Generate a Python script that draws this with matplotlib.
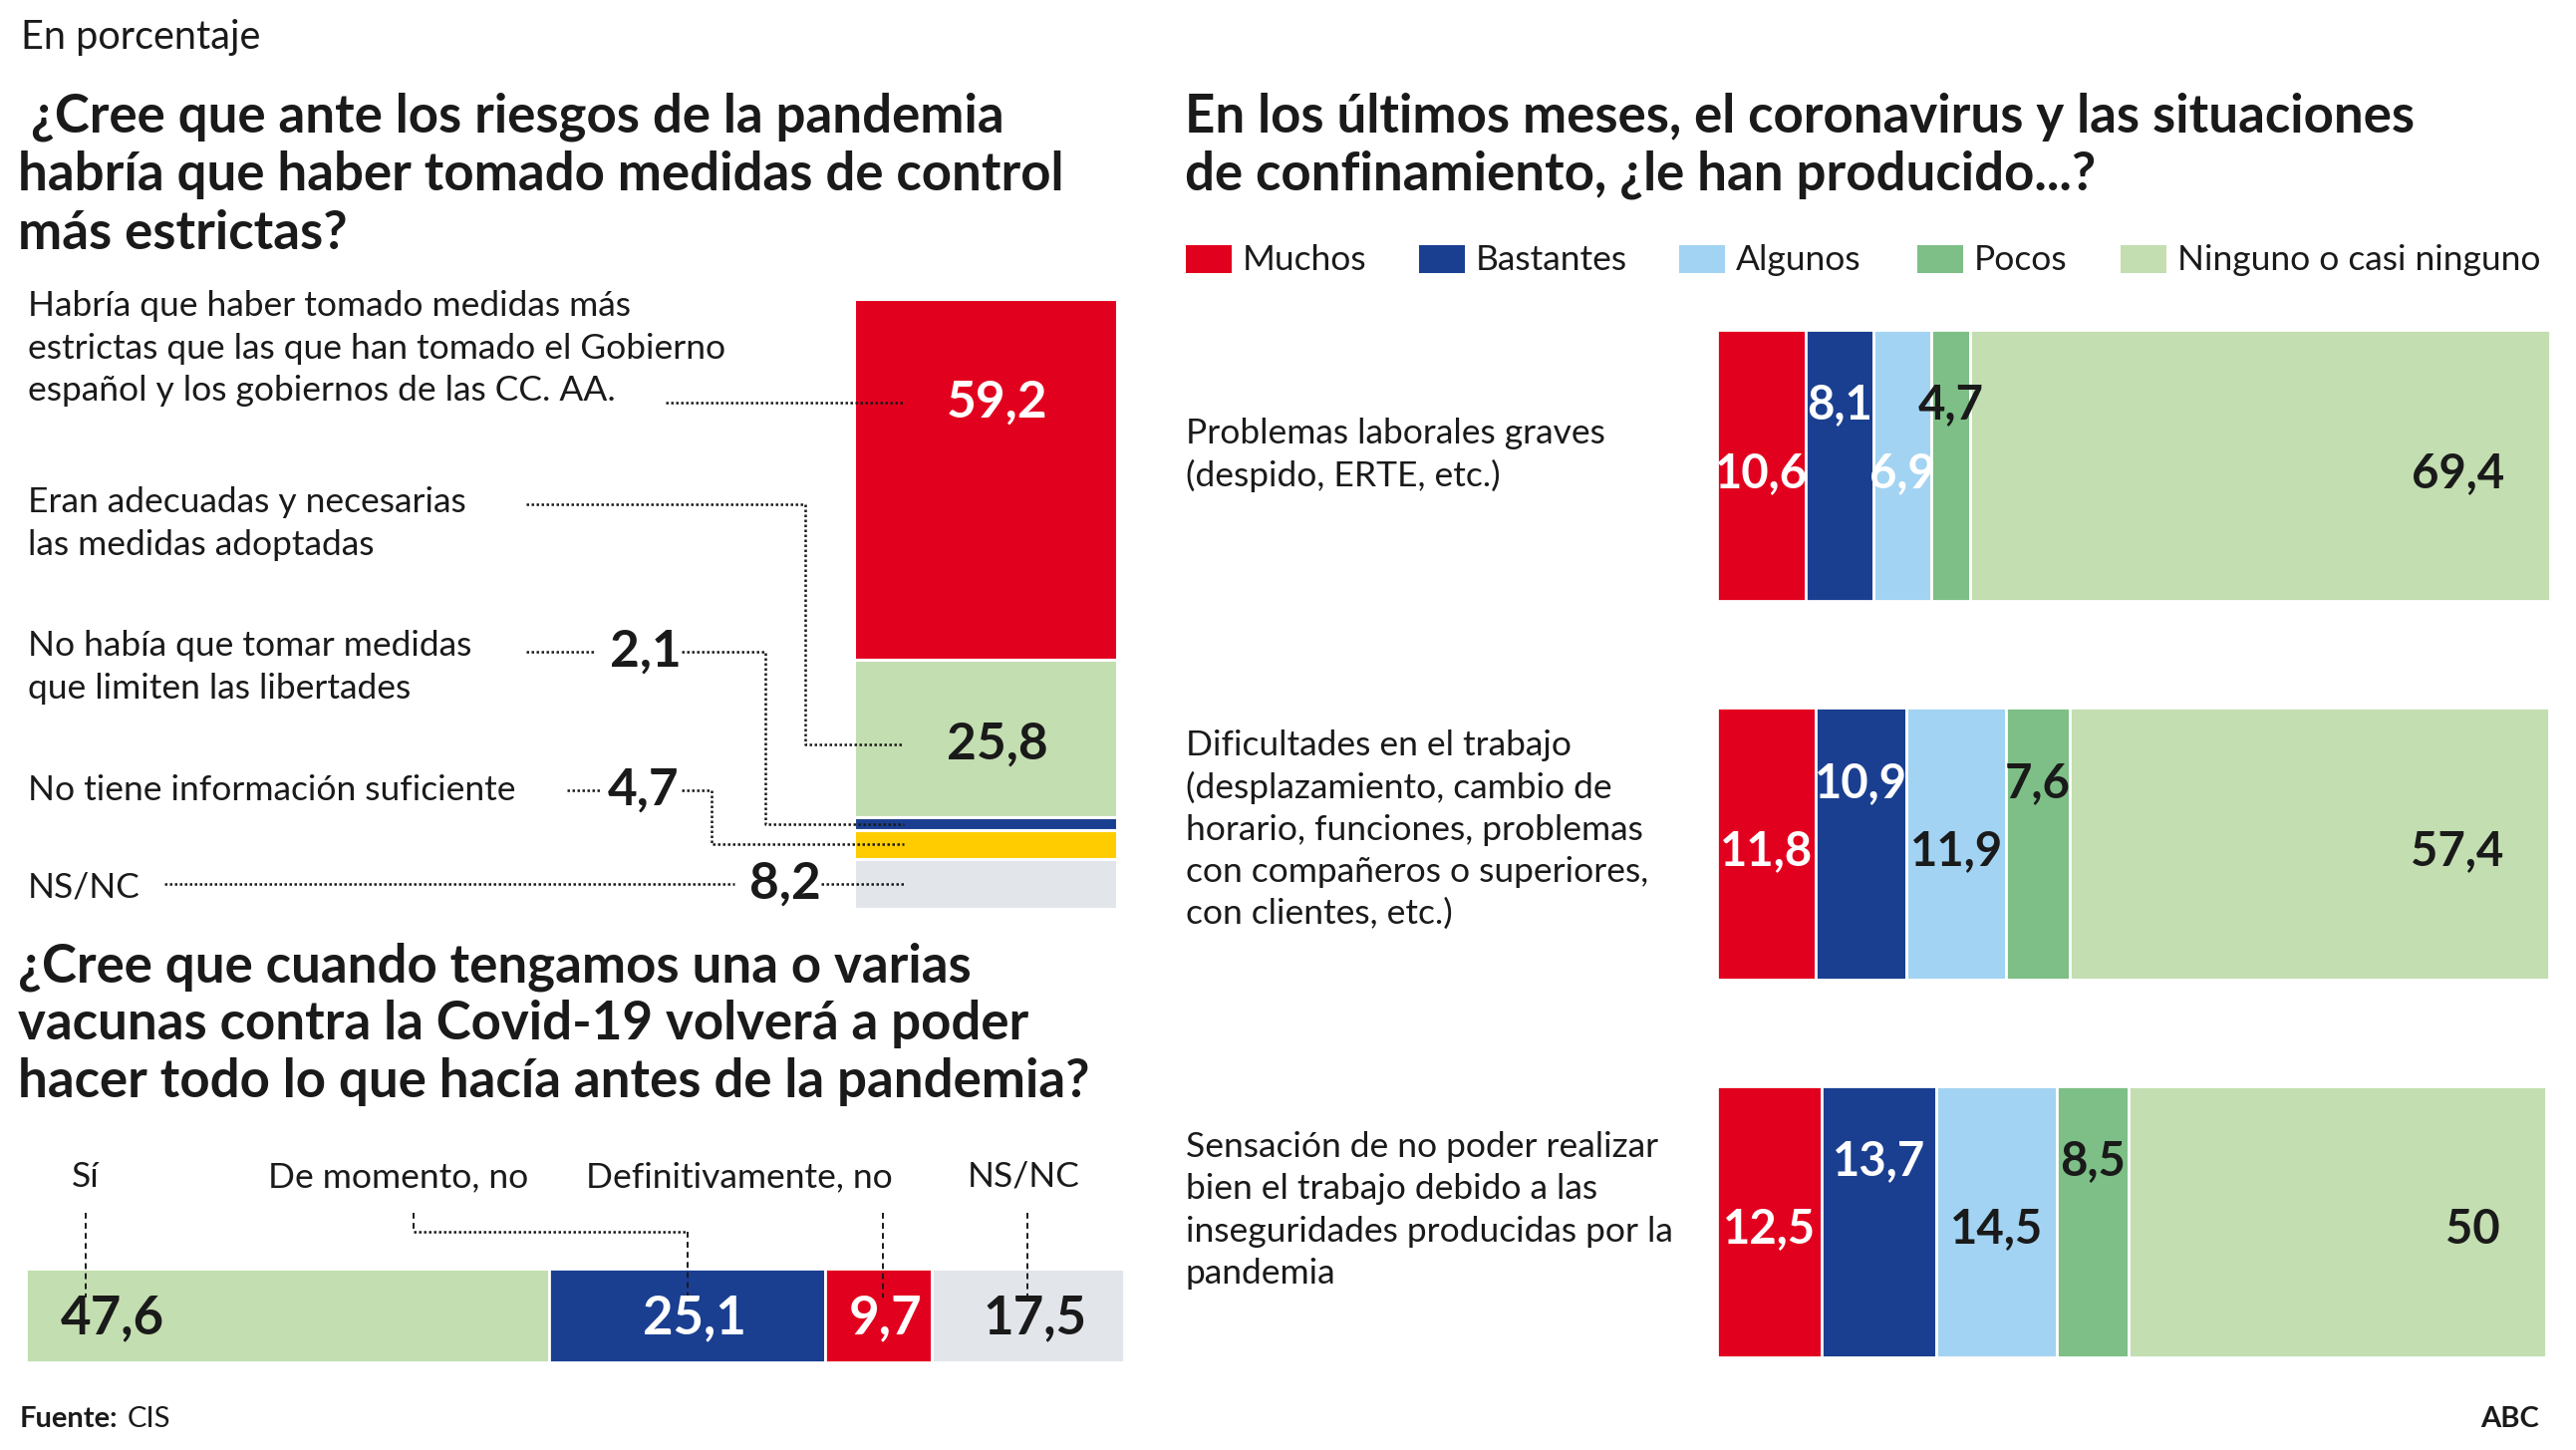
import matplotlib
matplotlib.use('Agg')
import matplotlib.pyplot as plt
from matplotlib.transforms import Affine2D
from matplotlib.lines import Line2D
from matplotlib.patches import Rectangle

W, H = 2585, 1455
plt.rcParams['font.family'] = ['Lato', 'DejaVu Sans']

# ---------------- DATA ----------------
q1_labels = [
    "Habría que haber tomado medidas más\nestrictas que las que han tomado el Gobierno\nespañol y los gobiernos de las CC. AA.",
    "Eran adecuadas y necesarias\nlas medidas adoptadas",
    "No había que tomar medidas\nque limiten las libertades",
    "No tiene información suficiente",
    "NS/NC",
]
q1_values = [59.2, 25.8, 2.1, 4.7, 8.2]

q2_labels = ["Sí", "De momento, no", "Definitivamente, no", "NS/NC"]
q2_values = [47.6, 25.1, 9.7, 17.5]

q3_categories = [
    "Problemas laborales graves\n(despido, ERTE, etc.)",
    "Dificultades en el trabajo\n(desplazamiento, cambio de\nhorario, funciones, problemas\ncon compañeros o superiores,\ncon clientes, etc.)",
    "Sensación de no poder realizar\nbien el trabajo debido a las\ninseguridades producidas por la\npandemia",
]
q3_series = ["Muchos", "Bastantes", "Algunos", "Pocos", "Ninguno o casi ninguno"]
muchos = [10.6, 11.8, 12.5]
bastantes = [8.1, 10.9, 13.7]
algunos = [6.9, 11.9, 14.5]
pocos = [4.7, 7.6, 8.5]
ninguno = [69.4, 57.4, 50]

# ---------------- STYLE ----------------
RED = '#E2001F'
BLUE = '#1A3F91'
LBLUE = '#A3D3F2'
MGREEN = '#7DBF86'
LGREEN = '#C3DEB0'
YELLOW = '#FFCC00'
GREY = '#E2E6EA'
DARK = '#1A1A1A'

q1_colors = [RED, LGREEN, BLUE, YELLOW, GREY]
q2_colors = [LGREEN, BLUE, RED, GREY]
q2_text_colors = [DARK, 'white', 'white', DARK]
q3_colors = [RED, BLUE, LBLUE, MGREEN, LGREEN]
q3_text_colors = [['white'] * 3, ['white'] * 3, ['white', DARK, DARK], [DARK] * 3, [DARK] * 3]

LABEL_FS = 25.5
TITLE_FS = 38


def fmt(v):
    if float(v).is_integer():
        return str(int(v))
    return f"{v:.1f}".replace('.', ',')


fig = plt.figure(figsize=(W / 100, H / 100), dpi=100)
fig.patch.set_facecolor('white')
T = Affine2D().scale(1 / W, -1 / H).translate(0, 1) + fig.transFigure


def ftext(x, y, s, **kw):
    kw.setdefault('color', DARK)
    return fig.text(x, y, s, transform=T, **kw)


def fline(xs, ys, style='dot', **kw):
    if style == 'dot':
        ls = (0, (1, 1))
        lw = 1.8
    else:
        ls = (0, (3, 2.2))
        lw = 1.4
    fig.add_artist(Line2D(xs, ys, transform=T, linestyle=ls, linewidth=lw,
                          color=kw.get('color', DARK)))


def axes_px(x0, y0, x1, y1):
    ax = fig.add_axes([x0 / W, 1 - y1 / H, (x1 - x0) / W, (y1 - y0) / H])
    ax.set_axis_off()
    return ax


def to_ref(ax, x, y):
    d = ax.transData.transform((x, y))
    return d[0], H - d[1]


def multiline(x, y0, text, step, **kw):
    for k, line in enumerate(text.split('\n')):
        ftext(x, y0 + k * step, line, **kw)


# ---------------- HEADER ----------------
ftext(21, 38, "En porcentaje", fontsize=28.5, va='center', ha='left')

title1 = [" ¿Cree que ante los riesgos de la pandemia",
          "habría que haber tomado medidas de control",
          "más estrictas?"]
for k, t in enumerate(title1):
    ftext(18, 117 + k * 58.5, t, fontsize=TITLE_FS, fontweight='bold', va='center')

title3 = ["En los últimos meses, el coronavirus y las situaciones",
          "de confinamiento, ¿le han producido...?"]
for k, t in enumerate(title3):
    ftext(1189, 117 + k * 58.5, t, fontsize=TITLE_FS, fontweight='bold', va='center')

# ---------------- Q1 vertical stacked bar ----------------
ax1 = axes_px(857, 300, 1121, 912)
bottoms = []
acc = 0
for v in q1_values:
    bottoms.append(acc)
    acc += v
ax1.bar([0] * len(q1_values), q1_values, bottom=bottoms, width=1.0,
        color=q1_colors, edgecolor='white', linewidth=2.2)
ax1.set_xlim(-0.5, 0.5)
ax1.set_ylim(100, 0)

centers1 = [b + v / 2 for b, v in zip(bottoms, q1_values)]
cx, _ = to_ref(ax1, 0, 0)
xend = 907

label_y = [307, 504, 648, 793, 890]
for lab, y in zip(q1_labels, label_y):
    multiline(28, y, lab, 42.6, fontsize=LABEL_FS, va='center')

# 1: Habría ... (59,2)
fline([668, xend], [404, 404])
ftext(cx + 12, 404, fmt(q1_values[0]), fontsize=37, fontweight='bold', color='white',
      ha='center', va='center')
# 2: Eran adecuadas (25,8)
_, yg = to_ref(ax1, 0, centers1[1])
fline([528, 808, 808, xend], [506, 506, yg + 6, yg + 6])
ftext(cx + 12, yg + 6, fmt(q1_values[1]), fontsize=37, fontweight='bold', ha='center', va='center')
# 3: No había (2,1)
_, yb = to_ref(ax1, 0, centers1[2])
fline([528, 597], [654, 654])
ftext(648, 654, fmt(q1_values[2]), fontsize=37, fontweight='bold', ha='center', va='center')
fline([684, 768, 768, xend], [654, 654, yb, yb])
# 4: No tiene información (4,7)
_, yy = to_ref(ax1, 0, centers1[3])
fline([569, 602], [793, 793])
ftext(646, 793, fmt(q1_values[3]), fontsize=37, fontweight='bold', ha='center', va='center')
fline([684, 714, 714, xend], [793, 793, yy, yy])
# 5: NS/NC (8,2)
_, yn = to_ref(ax1, 0, centers1[4])
fline([165, 737], [yn, yn])
ftext(788, yn, fmt(q1_values[4]), fontsize=37, fontweight='bold', ha='center', va='center')
fline([824, xend], [yn, yn])

# ---------------- Q2 horizontal stacked bar ----------------
title2 = ["¿Cree que cuando tengamos una o varias",
          "vacunas contra la Covid-19 volverá a poder",
          "hacer todo lo que hacía antes de la pandemia?"]
for k, t in enumerate(title2):
    ftext(18, 970 + k * 58, t, fontsize=TITLE_FS, fontweight='bold', va='center')

ax2 = axes_px(26, 1273, 1128, 1367)
lefts2 = []
acc = 0
for v in q2_values:
    lefts2.append(acc)
    acc += v
ax2.barh([0] * len(q2_values), q2_values, left=lefts2, height=1.0,
         color=q2_colors, edgecolor='white', linewidth=2.0)
ax2.set_xlim(0, sum(q2_values))
ax2.set_ylim(-0.5, 0.5)

cen2 = [l + v / 2 for l, v in zip(lefts2, q2_values)]
xs2 = [to_ref(ax2, c, 0)[0] for c in cen2]
x_left2, ymid2 = to_ref(ax2, 0, 0)

lab_x = [86, 400, 742, 1027]
for lab, x in zip(q2_labels, lab_x):
    ftext(x, 1181, lab, fontsize=LABEL_FS, ha='center', va='center')

fline([86, 86], [1217, 1302], style='dash')
fline([415, 415], [1217, 1236], style='dash')
fline([415, xs2[1]], [1236, 1236])
fline([xs2[1], xs2[1]], [1236, 1302], style='dash')
fline([xs2[2] + 5, xs2[2] + 5], [1217, 1302], style='dash')
fline([xs2[3], xs2[3]], [1217, 1302], style='dash')

for i, v in enumerate(q2_values):
    if i == 0:
        ftext(x_left2 + 35, ymid2 + 3, fmt(v), fontsize=38, fontweight='bold',
              color=q2_text_colors[i], ha='left', va='center')
    else:
        ftext(xs2[i] + 7, ymid2 + 3, fmt(v), fontsize=38, fontweight='bold',
              color=q2_text_colors[i], ha='center', va='center')

# ---------------- Q3 horizontal stacked bars ----------------
series = [muchos, bastantes, algunos, pocos, ninguno]
ax3 = axes_px(1723, 331, 2559, 1362)
BH = 0.717
ax3.set_xlim(0, 99.7)
ax3.set_ylim(2 + BH / 2, -BH / 2)
ypos = list(range(len(q3_categories)))
lefts = [0.0] * len(q3_categories)
for j, vals in enumerate(series):
    ax3.barh(ypos, vals, left=lefts, height=BH, color=q3_colors[j],
             edgecolor='white', linewidth=2.0, label=q3_series[j])
    for i, v in enumerate(vals):
        if j == len(series) - 1:
            xt, ha = lefts[i] + v - 5.5, 'right'
        else:
            xt, ha = lefts[i] + v / 2, 'center'
        yt = i - 0.16 if j in (1, 3) else i + 0.02
        ax3.text(xt, yt, fmt(v), fontsize=34, fontweight='bold',
                 color=q3_text_colors[j][i], ha=ha, va='center')
    lefts = [l + v for l, v in zip(lefts, vals)]

cat_y0 = [435, 748, 1151]
for cat, y in zip(q3_categories, cat_y0):
    multiline(1190, y, cat, 42.3, fontsize=LABEL_FS, va='center')

# legend
sq_x = [1190, 1424, 1685, 1924, 2128]
for name, col, x in zip(q3_series, q3_colors, sq_x):
    fig.add_artist(Rectangle((x, 246), 46, 28, transform=T, facecolor=col, edgecolor='none'))
    ftext(x + 57, 261, name, fontsize=LABEL_FS, va='center', ha='left')

# ---------------- FOOTER ----------------
ftext(20, 1424, "Fuente:", fontsize=21, fontweight='bold', va='center')
ftext(128, 1424, "CIS", fontsize=21, va='center')
ftext(2548, 1424, "ABC", fontsize=21, fontweight='bold', va='center', ha='right')

fig.savefig('out.png', dpi=100, facecolor='white')
